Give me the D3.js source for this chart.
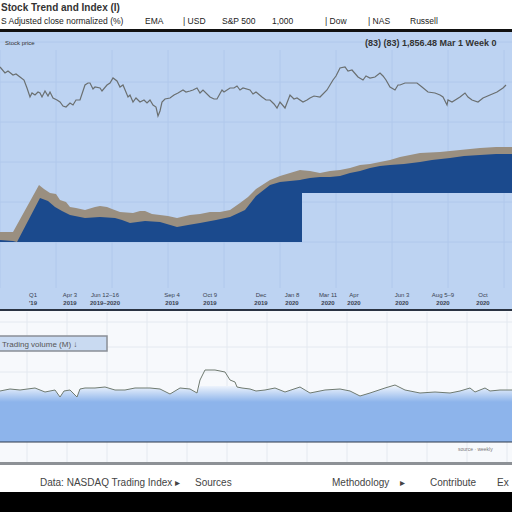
<!DOCTYPE html>
<html>
<head>
<meta charset="utf-8">
<script src="https://cdn.jsdelivr.net/npm/d3@7"></script>
<style>
  body { margin: 0; background: #fff; }
  svg { display: block; font-family: "Liberation Sans", "DejaVu Sans", sans-serif; }
</style>
</head>
<body>
<div id="chart"></div>
<script>
// ---- data (x in weeks, y in index points) ----
var headerCols = ["EMA", "| USD", "S&P 500", "1,000", "| Dow", "| NAS", "Russell"];
var headerColX = [145, 183, 222, 272, 325, 368, 410];

// price line (upper panel)
var priceWeek = [0,1.25,2,3.25,4,5,6,6.75,7.5,8,8.75,9.5,10,10.5,11.25,12,12.5,13.25,14.25,15,15.75,16.5,17.5,18.25,19,20,21.25,22,22.5,23.25,23.75,25,25.5,26.75,27.5,28.25,29.25,30,30.75,32,32.5,33.25,34,35,36,36.75,37.5,38.25,39,39.5,40,40.5,41.25,42.5,43.5,44.5,45.75,46.5,47.5,48.25,49.25,50,50.75,52.5,53.5,54.25,55.5,56,57.5,58.5,59.25,60,60.75,62.5,63.25,64,65.5,66.5,67.5,68.5,69.25,70,71.25,72.5,73.5,74.25,75.75,76.75,77.5,78.5,80,81.75,83.25,84,85,86.25,87,88,89.5,90.75,91.5,92.5,93.75,95,95.75,96.5,97.5,98.75,99.5,100,101.25,102.5,104.25,105.5,107,108.75,110,110.75,111.75,112,113,115,116.25,117,118,119.5,120.75,122.5,124.25,125.75,126.5];
var priceVal  = [175,169,171,167,168,165,162,154,145,149,147,150,149,145,151,146,150,144,142,140,136,135,139,137,142,142,157,159,159,153,155,154,151,157,159,164,161,155,157,145,147,140,144,140,142,139,142,137,135,126,131,140,143,144,147,149,152,150,151,152,154,149,152,145,143,143,152,150,154,154,156,152,154,152,148,150,145,142,142,138,134,140,134,147,143,144,140,142,144,146,145,152,162,166,174,175,171,172,165,162,166,164,165,169,166,162,155,152,157,157,159,159,159,155,150,149,147,145,137,142,140,145,149,145,142,140,144,147,150,154,157];

// total index (tan top) and core index (blue top)
var totalWeek = [0,3.25,9.75,11,12.5,14,15,16.5,17.5,19,21.25,23.75,25,26.75,28,30,33.25,35,36.25,38,40,42,44.25,47.5,50,52.5,55,57.5,60,62,64,67.5,70,72.5,75,77.5,80,82.5,85,87.5,90,92.5,95,97.5,100,102.5,105,110,115,120,124,128];
var totalVal  = [10,10,57,53,49,48,42,40,35,34,32,35,36,35,33,30,29,31,31,28,27,26,24,27,28,30,30,32,39,45,53,62,66,69,72,71,69,71,72,74,77,78,80,82,85,87,89,90,92,94,95,95];
var coreWeek  = [0,3.25,4.25,10,12,13.75,15.5,17.5,21.25,25,28.75,30.5,32.5,36.25,40,44.25,47,50,54,57.5,61.25,64,67.5,70,72.5,75,77.5,80,82.5,85,87.5,90,92.5,95,97.5,101,105,108,112.5,116,120,124,128];
var coreVal   = [2,1,0,44,41,35,31,27,24,25,24,22,19,21,20,15,17,19,22,25,32,46,57,60,61,62,64,65,65,66,69,71,74,76,77,78,80,82,84,86,87,88,88];
var baseBreak = 75.5, baseLow = 0, baseHigh = 49;

// upper axis tick labels
var tickWeek = [8.25, 17.5, 26.25, 43, 52.5, 65.25, 73, 82, 88.5, 100.5, 110.75, 120.75];
var tickTop  = ["Q1", "Apr 3", "Jun 12–16", "Sep 4", "Oct 9", "Dec", "Jan 8", "Mar 11", "Apr", "Jun 3", "Aug 5–9", "Oct"];
var tickBot  = ["'19", "2019", "2019–2020", "2019", "2019", "2019", "2020", "2020", "2020", "2020", "2020", "2020"];

// trading volume (lower panel)
var volWeek = [0,2.5,5,8.75,11.25,13.75,15,16,17.5,19.25,20,21.25,23.75,26.25,28.75,31.25,33.75,37.5,40,42.5,45,47.5,49.25,50,51.25,53.75,56.25,57.5,58.75,59.25,60.5,62.5,64,66.25,68.75,71.25,75,77.5,81.25,85,87.5,90,92.5,96.25,98.75,101.25,105,108.75,112.5,115,117.5,118.75,121.25,122.5,125,128];
var volVal  = [51,53,52,54,50,52,45,51,52,45,53,54,54,55,52,52,54,54,53,48,54,53,49,62,72,72,70,62,60,55,54,53,51,52,54,50,55,49,52,53,51,46,49,54,57,52,49,50,49,51,54,50,54,51,52,52];

var footerLabels = ["Data: NASDAQ Trading Index ▸", "Sources", "Methodology", "▸", "Contribute", "Ex"];
var footerX = [40, 195, 332, 400, 430, 497];

// ---- layout ----
var W = 512, H = 512;
var svg = d3.select("#chart").append("svg").attr("width", W).attr("height", H);

var x = d3.scaleLinear().domain([0, 128]).range([0, W]);
var yU = d3.scaleLinear().domain([0, 210]).range([242, 32]);
var yL = d3.scaleLinear().domain([0, 130]).range([442, 312]);

// header
svg.append("rect").attr("width", W).attr("height", 29).attr("fill", "#fff");
svg.append("text").attr("x", 1).attr("y", 11).attr("font-size", 10).attr("font-weight", "bold")
  .attr("fill", "#333").text("Stock Trend and Index (I)");
svg.append("text").attr("x", 1).attr("y", 24).attr("font-size", 8.5).attr("fill", "#222")
  .text("S Adjusted close normalized (%)");
svg.selectAll(".hcol").data(headerCols).enter().append("text")
  .attr("class", "hcol").attr("x", (d, i) => headerColX[i]).attr("y", 24)
  .attr("font-size", 8.5).attr("fill", "#222").text(d => d);
svg.append("rect").attr("y", 29).attr("width", W).attr("height", 3).attr("fill", "#111");

// upper panel
svg.append("rect").attr("y", 32).attr("width", W).attr("height", 278).attr("fill", "#bdd3f2");
var gridU = svg.append("g").attr("stroke", "#b0c8ec").attr("stroke-width", 1);
gridU.selectAll(".vx").data(d3.range(0, 129, 14)).enter().append("line")
  .attr("x1", d => x(d)).attr("x2", d => x(d)).attr("y1", 50).attr("y2", 288);
gridU.selectAll(".hy").data(d3.range(0, 201, 40)).enter().append("line")
  .attr("x1", 0).attr("x2", W).attr("y1", d => yU(d)).attr("y2", d => yU(d));

svg.append("text").attr("x", 5).attr("y", 45).attr("font-size", 6).attr("fill", "#333").text("Stock price");
svg.append("text").attr("x", 365).attr("y", 46).attr("font-size", 9).attr("font-weight", "bold")
  .attr("fill", "#333").text("(83)  (83) 1,856.48 Mar  1 Week 0");

function baseAt(w) { return w < baseBreak ? baseLow : baseHigh; }
function withBreak(ws, vs) {
  var pts = ws.map((w, i) => ({ w: w, v: vs[i], b: baseAt(w) }));
  var j = pts.findIndex(p => p.w >= baseBreak);
  var a = pts[j - 1], c = pts[j];
  var v = a.v + (c.v - a.v) * (baseBreak - a.w) / (c.w - a.w);
  pts.splice(j, 0, { w: baseBreak, v: v, b: baseLow }, { w: baseBreak, v: v, b: baseHigh });
  return pts;
}
var area = d3.area().x(d => x(d.w)).y0(d => yU(d.b)).y1(d => yU(d.v));
svg.append("path").datum(withBreak(totalWeek, totalVal)).attr("d", area).attr("fill", "#9a8f80");
svg.append("path").datum(withBreak(coreWeek, coreVal)).attr("d", area).attr("fill", "#1b4a8d");

svg.append("path").datum(priceWeek.map((w, i) => [w, priceVal[i]]))
  .attr("d", d3.line().x(d => x(d[0])).y(d => yU(d[1])))
  .attr("fill", "none").attr("stroke", "#6a6f70").attr("stroke-width", 1.2);

var ticks = svg.append("g").attr("font-size", 6).attr("fill", "#3a4250").attr("text-anchor", "middle");
ticks.selectAll(".t1").data(tickTop).enter().append("text")
  .attr("x", (d, i) => x(tickWeek[i])).attr("y", 297).text(d => d);
ticks.selectAll(".t2").data(tickBot).enter().append("text")
  .attr("x", (d, i) => x(tickWeek[i])).attr("y", 305).attr("font-weight", "bold").text(d => d);
svg.append("rect").attr("y", 309).attr("width", W).attr("height", 2).attr("fill", "#2a3342");

// lower panel
svg.append("rect").attr("y", 311).attr("width", W).attr("height", 152).attr("fill", "#f7f9fc");
var gridL = svg.append("g").attr("stroke", "#e4e9f0").attr("stroke-width", 1);
gridL.selectAll(".vx").data(d3.range(6.75, 129, 10)).enter().append("line")
  .attr("x1", d => x(d)).attr("x2", d => x(d)).attr("y1", 312).attr("y2", 462);
gridL.selectAll(".hy").data(d3.range(20, 131, 25)).enter().append("line")
  .attr("x1", 0).attr("x2", W).attr("y1", d => yL(d)).attr("y2", d => yL(d));

var defs = svg.append("defs");
var grad = defs.append("linearGradient").attr("id", "volgrad")
  .attr("gradientUnits", "userSpaceOnUse").attr("x1", 0).attr("x2", 0).attr("y1", yL(57)).attr("y2", yL(40));
grad.append("stop").attr("offset", 0).attr("stop-color", "#f3f7fd");
grad.append("stop").attr("offset", 1).attr("stop-color", "#8db4eb");

var volPts = volWeek.map((w, i) => [w, volVal[i]]);
svg.append("path").datum(volPts)
  .attr("d", d3.area().x(d => x(d[0])).y0(yL(0)).y1(d => yL(Math.min(d[1], 56))))
  .attr("fill", "url(#volgrad)");
svg.append("path").datum(volPts)
  .attr("d", d3.line().x(d => x(d[0])).y(d => yL(d[1])))
  .attr("fill", "none").attr("stroke", "#6f7a70").attr("stroke-width", 1);
svg.append("line").attr("x1", 0).attr("x2", W).attr("y1", yL(0)).attr("y2", yL(0))
  .attr("stroke", "#2e3a4c").attr("stroke-width", 1.2);

svg.append("rect").attr("x", -1).attr("y", 336).attr("width", 108).attr("height", 15)
  .attr("fill", "#c9daf1").attr("stroke", "#8a8f96").attr("stroke-width", 1.5);
svg.append("text").attr("x", 2).attr("y", 347).attr("font-size", 8).attr("fill", "#555")
  .text("Trading volume (M) ↓");
svg.append("text").attr("x", 458).attr("y", 451).attr("font-size", 5).attr("fill", "#777").text("source  ·  weekly");

svg.append("rect").attr("y", 462).attr("width", W).attr("height", 3).attr("fill", "#8d9196");

// footer
svg.append("rect").attr("y", 465).attr("width", W).attr("height", 27).attr("fill", "#fff");
svg.selectAll(".foot").data(footerLabels).enter().append("text")
  .attr("x", (d, i) => footerX[i]).attr("y", 486).attr("font-size", 10).attr("fill", "#444").text(d => d);
svg.append("rect").attr("y", 492).attr("width", W).attr("height", 20).attr("fill", "#000");
</script>
</body>
</html>
